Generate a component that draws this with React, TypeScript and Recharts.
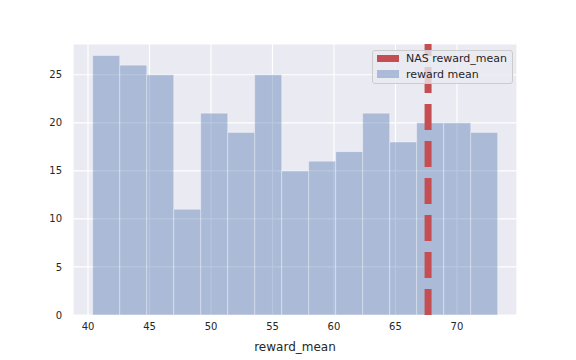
import {
  ComposedChart,
  Bar,
  XAxis,
  YAxis,
  CartesianGrid,
  ReferenceLine,
} from "recharts";

// histogram of reward_mean (bin left edges)
const binLeft = [
  40.38, 42.58, 44.77, 46.97, 49.16, 51.36, 53.55, 55.75, 57.94, 60.14, 62.33,
  64.53, 66.72, 68.92, 71.11,
];
const binWidth = 2.195;
const counts = [27, 26, 25, 11, 21, 19, 25, 15, 16, 17, 21, 18, 20, 20, 19];

const nasRewardMean = 67.65;

const xTicks = [40, 45, 50, 55, 60, 65, 70];
const yTicks = [0, 5, 10, 15, 20, 25];

const data = binLeft.map((left, i) => ({
  x: left + binWidth / 2,
  count: counts[i],
}));

const FONT = "'DejaVu Sans', sans-serif";
const TEXT = "#262626";

function LegendBox() {
  return (
    <div
      style={{
        position: "absolute",
        left: 372,
        top: 50,
        width: 139,
        height: 32,
        border: "1px solid #cccccc",
        borderRadius: 3,
        background: "rgba(234,234,242,0.8)",
        fontFamily: FONT,
        fontSize: 11,
        color: TEXT,
      }}
    >
      <div style={{ position: "absolute", left: 4, top: 4, width: 22, height: 7, background: "#c44e52" }} />
      <div style={{ position: "absolute", left: 33, top: 0, lineHeight: "16px" }}>NAS reward_mean</div>
      <div
        style={{
          position: "absolute",
          left: 4,
          top: 19,
          width: 22,
          height: 8,
          background: "rgba(76,114,176,0.4)",
        }}
      />
      <div style={{ position: "absolute", left: 33, top: 16, lineHeight: "16px" }}>reward mean</div>
    </div>
  );
}

export default function App() {
  return (
    <div style={{ position: "absolute", left: 0, top: 0, width: 576, height: 360, background: "#fff" }}>
      <ComposedChart
        width={576}
        height={360}
        data={data}
        margin={{ top: 44, right: 59, bottom: 0, left: 0 }}
        barCategoryGap={0}
        barGap={0}
      >
        <CartesianGrid fill="#eaeaf2" stroke="#ffffff" strokeWidth={1.2} />
        <XAxis
          dataKey="x"
          type="number"
          domain={[38.78, 74.88]}
          ticks={xTicks}
          allowDataOverflow
          axisLine={false}
          tickLine={false}
          tickSize={0}
          tickMargin={8}
          height={45}
          tick={{ fill: TEXT, fontSize: 10, fontFamily: FONT }}
          label={{
            value: "reward_mean",
            position: "insideBottom",
            offset: 9,
            fill: TEXT,
            fontSize: 12,
            fontFamily: FONT,
          }}
        />
        <YAxis
          type="number"
          domain={[0, 28.2]}
          ticks={yTicks}
          allowDataOverflow
          axisLine={false}
          tickLine={false}
          tickSize={0}
          tickMargin={11}
          width={73}
          tick={{ fill: TEXT, fontSize: 10, fontFamily: FONT }}
        />
        <Bar
          dataKey="count"
          name="reward mean"
          fill="#4c72b0"
          fillOpacity={0.4}
          stroke="#ffffff"
          strokeOpacity={0.35}
          strokeWidth={1}
          isAnimationActive={false}
        />
        <ReferenceLine
          x={nasRewardMean}
          stroke="#c44e52"
          strokeWidth={7}
          strokeDasharray="26 11"
        />
      </ComposedChart>
      <LegendBox />
    </div>
  );
}
